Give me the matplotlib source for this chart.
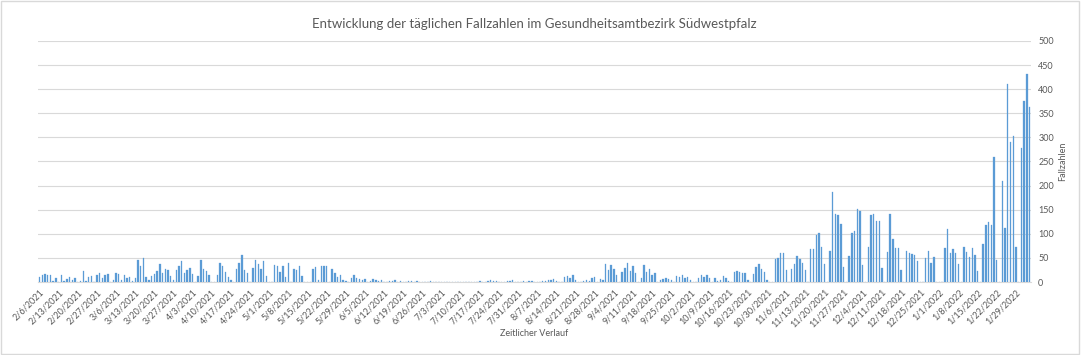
import numpy as np
import pandas as pd
import matplotlib
matplotlib.use("Agg")
import matplotlib.pyplot as plt

plt.rcParams['font.family'] = ['Lato', 'DejaVu Sans']

# daily case numbers, 6 Feb 2021 .. 3 Feb 2022
feb21 = [11, 14, 16, 15, 14, 3, 9, 0, 14, 3, 6, 10, 5, 8, 0, 2, 23, 3, 10, 12, 0, 15, 19]
mar21 = [8, 14, 17, 0, 5, 18, 16, 5, 15, 8, 10, 3, 9, 46, 33, 49, 10, 4, 12, 17, 22,
         37, 18, 27, 25, 12, 5, 24, 34, 43, 18]
apr21 = [25, 30, 17, 0, 13, 46, 27, 23, 15, 0, 0, 15, 40, 34, 20, 10, 5, 0, 27, 40, 57,
         25, 19, 0, 30, 45, 38, 28, 44, 12]
may21 = [0, 0, 35, 34, 20, 34, 10, 40, 0, 28, 25, 33, 12, 0, 0, 0, 28, 31, 5, 33, 33,
         34, 0, 27, 18, 10, 14, 5, 3, 0, 8]
jun21 = [15, 8, 6, 5, 7, 0, 3, 6, 4, 2, 5, 0, 1, 3, 2, 4, 1, 2, 0, 0, 2, 3, 1, 2, 1,
         0, 0, 1, 2, 1]
jul21 = [0, 1, 0, 0, 0, 1, 0, 0, 0, 0, 0, 0, 0, 0, 0, 1, 3, 0, 0, 2, 4, 3, 2, 1, 0,
         0, 3, 2, 4, 1, 0]
aug21 = [0, 2, 1, 3, 2, 1, 0, 0, 2, 3, 5, 4, 6, 3, 0, 0, 10, 12, 8, 15, 5, 0, 0, 3, 4,
         2, 8, 10, 0, 6, 5]
sep21 = [38, 25, 35, 28, 15, 0, 20, 30, 40, 22, 33, 18, 0, 8, 35, 20, 28, 15, 18, 0,
         5, 6, 8, 7, 5, 0, 12, 10, 15, 8]
oct21 = [10, 5, 0, 0, 8, 15, 10, 14, 8, 0, 8, 3, 5, 12, 8, 3, 0, 21, 22, 20, 19, 18, 5,
         0, 16, 32, 37, 28, 20, 5, 0]
nov21 = [0, 47, 50, 60, 60, 25, 0, 28, 37, 54, 48, 39, 25, 0, 69, 69, 97, 102, 73, 37,
         0, 64, 187, 142, 140, 120, 31, 0, 54, 102]
dec21 = [106, 151, 147, 35, 0, 72, 139, 141, 127, 127, 29, 0, 63, 142, 89, 71, 71, 25,
         0, 65, 60, 58, 57, 43, 0, 0, 50, 65, 40, 52, 0]
jan22 = [0, 0, 70, 110, 60, 68, 60, 38, 0, 72, 63, 52, 70, 55, 22, 0, 78, 118, 125, 118,
         260, 45, 0, 210, 112, 410, 290, 302, 72, 0, 278]
feb22 = [375, 432, 362]

cases = feb21 + mar21 + apr21 + may21 + jun21 + jul21 + aug21 + sep21 + oct21 + nov21 + dec21 + jan22 + feb22
dates = pd.date_range("2021-02-06", periods=len(cases), freq="D")

tick_idx = np.arange(0, len(cases), 7)
tick_labels = [f"{d.month}/{d.day}/{d.year}" for d in dates[tick_idx]]

grey = '#595959'
fig = plt.figure(figsize=(10.81, 3.55), dpi=100)
ax = fig.add_axes([0.035, 0.2056, 0.919, 0.679])

x = np.arange(len(cases))
ax.bar(x, cases, width=0.5, color='#5b9bd5', edgecolor='#5b9bd5', linewidth=0.2, zorder=3)

ax.set_xlim(-0.6, len(cases) - 0.4)
ax.set_ylim(0, 500)
ax.set_yticks(np.arange(0, 501, 50))
ax.yaxis.tick_right()
ax.yaxis.set_label_position('right')
ax.grid(axis='y', color='#d9d9d9', linewidth=0.8, zorder=0)
for s in ['top', 'left', 'right']:
    ax.spines[s].set_visible(False)
ax.spines['bottom'].set_color('#d9d9d9')

ax.set_xticks(tick_idx)
ax.set_xticklabels(tick_labels, rotation=45, ha='right', rotation_mode='anchor',
                   fontsize=6.5, color=grey)
ax.tick_params(axis='x', length=0, pad=4)
ax.tick_params(axis='y', length=0, labelsize=6.5, labelcolor=grey, pad=5)

ax.set_ylabel('Fallzahlen', fontsize=6.5, color=grey, labelpad=3)
ax.set_xlabel('Zeitlicher Verlauf', fontsize=6.5, color=grey, labelpad=0)
ax.set_title('Entwicklung der täglichen Fallzahlen im Gesundheitsamtbezirk Südwestpfalz',
             fontsize=9.5, color=grey, pad=9)

fig.patches.append(plt.Rectangle((0.001, 0.002), 0.997, 0.995, transform=fig.transFigure,
                                 fill=False, edgecolor='#d9d9d9', linewidth=1))

fig.savefig('out.png', dpi=100)
